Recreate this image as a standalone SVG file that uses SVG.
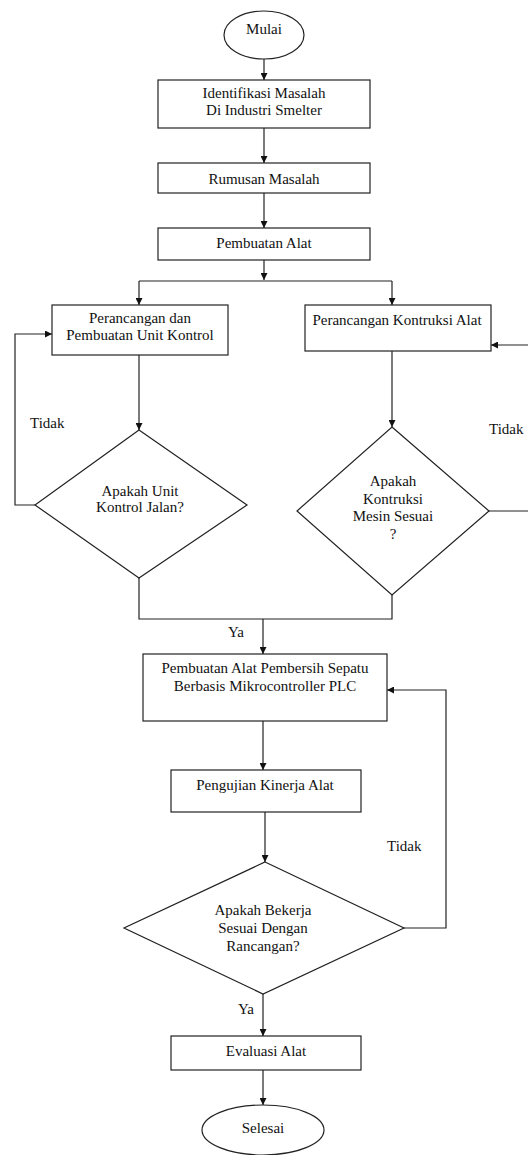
<svg xmlns="http://www.w3.org/2000/svg" width="528" height="1155" viewBox="0 0 528 1155">
<defs>
<marker id="arr" viewBox="0 0 10 10" refX="10" refY="5" markerWidth="7" markerHeight="7" markerUnits="userSpaceOnUse" orient="auto">
<path d="M0,0 L10,5 L0,10 z" fill="#111"/>
</marker>
<style>
.s{fill:#fff;stroke:#222;stroke-width:1.2}
.c{fill:none;stroke:#222;stroke-width:1.2}
.a{marker-end:url(#arr)}
text{font-family:"Liberation Serif","Times New Roman",serif;font-size:15px;fill:#111}
.m{text-anchor:middle}
</style>
</defs>
<rect width="528" height="1155" fill="#fff"/>
<g id="connectors">
<path class="c a" d="M264,59 V80"/>
<path class="c a" d="M264,128 V163"/>
<path class="c a" d="M264,193 V228"/>
<path class="c a" d="M264,260 V280"/>
<path class="c" d="M139,281 H392"/>
<path class="c a" d="M139,281 V305"/>
<path class="c a" d="M392,281 V305"/>
<path class="c a" d="M139,355 V430"/>
<path class="c a" d="M392,351 V427"/>
<path class="c a" d="M35,505 H15 V334 H52"/>
<path class="c" d="M489,511 H535"/>
<path class="c a" d="M535,345 H491"/>
<path class="c" d="M139,578 V619 H392 V595"/>
<path class="c a" d="M263,619 V654"/>
<path class="c a" d="M263,721 V770"/>
<path class="c a" d="M265,812 V862"/>
<path class="c a" d="M404,928 H446 V690 H387"/>
<path class="c a" d="M263,994 V1036"/>
<path class="c a" d="M263,1070 V1105"/>
<text x="30" y="428">Tidak</text>
<text x="489" y="434">Tidak</text>
<text x="228" y="637">Ya</text>
<text x="387" y="851">Tidak</text>
<text x="238" y="1014">Ya</text>
</g>
<g id="mulai">
<ellipse class="s" cx="264" cy="35" rx="40" ry="24"/>
<text class="m" x="264" y="34">Mulai</text>
</g>
<g id="identifikasi">
<rect class="s" x="158" y="80" width="212" height="48"/>
<text class="m" x="264" y="98">Identifikasi Masalah</text>
<text class="m" x="264" y="115">Di Industri Smelter</text>
</g>
<g id="rumusan">
<rect class="s" x="158" y="163" width="212" height="30"/>
<text class="m" x="264" y="184">Rumusan Masalah</text>
</g>
<g id="pembuatan-alat">
<rect class="s" x="158" y="228" width="212" height="32"/>
<text class="m" x="264" y="248">Pembuatan Alat</text>
</g>
<g id="unit-kontrol">
<rect class="s" x="52" y="305" width="176" height="50"/>
<text class="m" x="140" y="323">Perancangan dan</text>
<text class="m" x="140" y="340">Pembuatan Unit Kontrol</text>
</g>
<g id="kontruksi-alat">
<rect class="s" x="305" y="305" width="186" height="46"/>
<text class="m" x="397" y="325">Perancangan Kontruksi Alat</text>
</g>
<g id="cek-unit">
<polygon class="s" points="139,430 247,505 139,578 35,505"/>
<text class="m" x="140" y="496">Apakah Unit</text>
<text class="m" x="140" y="512">Kontrol Jalan?</text>
</g>
<g id="cek-kontruksi">
<polygon class="s" points="392,427 489,511 392,595 297,511"/>
<text class="m" x="393" y="486">Apakah</text>
<text class="m" x="393" y="504">Kontruksi</text>
<text class="m" x="393" y="521">Mesin Sesuai</text>
<text class="m" x="393" y="539">?</text>
</g>
<g id="pembuatan-pembersih">
<rect class="s" x="143" y="654" width="244" height="67"/>
<text class="m" x="265" y="673">Pembuatan Alat Pembersih Sepatu</text>
<text class="m" x="265" y="691">Berbasis Mikrocontroller PLC</text>
</g>
<g id="pengujian">
<rect class="s" x="171" y="770" width="190" height="42"/>
<text class="m" x="265" y="790">Pengujian Kinerja Alat</text>
</g>
<g id="cek-bekerja">
<polygon class="s" points="265,862 404,928 263,994 124,928"/>
<text class="m" x="263" y="915">Apakah Bekerja</text>
<text class="m" x="263" y="933">Sesuai Dengan</text>
<text class="m" x="263" y="951">Rancangan?</text>
</g>
<g id="evaluasi">
<rect class="s" x="171" y="1036" width="190" height="34"/>
<text class="m" x="266" y="1056">Evaluasi Alat</text>
</g>
<g id="selesai">
<ellipse class="s" cx="263" cy="1130" rx="61" ry="25"/>
<text class="m" x="263" y="1133">Selesai</text>
</g>
</svg>
